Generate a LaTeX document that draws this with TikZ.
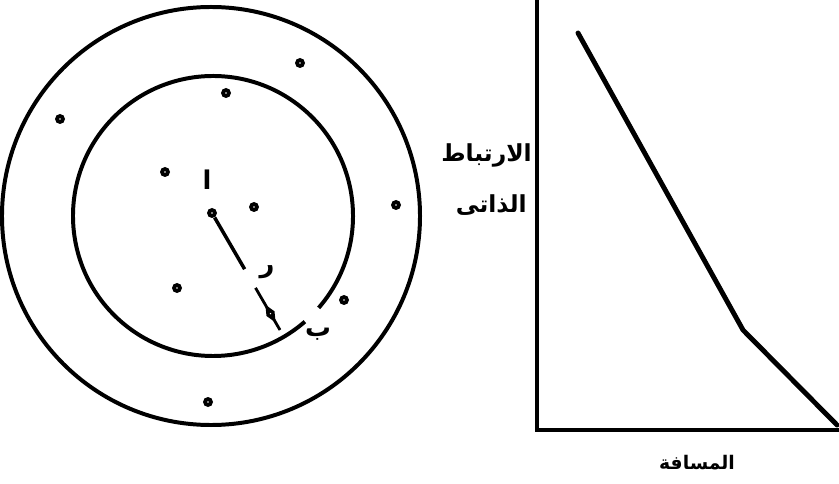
\documentclass[tikz,border=0pt]{standalone}
\usepackage{fontspec}
\newfontfamily\arabicfont[Script=Arabic]{DejaVu Sans}
\TeXXeTstate=1
\usetikzlibrary{calc,shapes.geometric}
\tikzset{
  ring/.style   ={line width=3.4pt},
  grain/.style  ={circle,fill=black,inner sep=0pt,minimum size=0.3cm},
  speck/.style  ={circle,fill=white,inner sep=0pt,minimum size=0.05cm},
  rhomb/.style  ={diamond,draw=black,line width=1.6pt,fill=black,inner sep=0pt,
                  minimum width=0.24cm,minimum height=0.5cm,rotate=30},
  lag/.style    ={line width=3pt},
  axisline/.style={line width=3.2pt},
  corr/.style   ={line width=4.2pt,line join=round,line cap=round},
  arlabel/.style={font=\arabicfont\bfseries\fontsize{20}{24}\selectfont,inner sep=0pt},
  letter/.style ={font=\arabicfont\bfseries\fontsize{22}{26}\selectfont,inner sep=0pt},
}
\begin{document}
\begin{tikzpicture}[x=0.03cm,y=-0.03cm]
  \useasboundingbox (0,0) rectangle (839,484);
  \coordinate (outer) at (211,216);
  \coordinate (inner) at (213,216);
  \draw[ring] (outer) circle[radius=6.27cm];
  \draw[ring] ($(inner)+(-41:4.2cm)$) arc[start angle=-41,end angle=311,radius=4.2cm];
  \node[grain] (a) at (212,213) {};
  \node[speck] at (a) {};
  \coordinate (b) at (280,330);
  \coordinate (g1) at ($(a)!0.48!(b)$);
  \coordinate (g2) at ($(a)!0.64!(b)$);
  \draw[lag] (a) -- (g1);
  \draw[lag,line width=2.4pt] (g2) -- (b);
  \node[rhomb] (m) at ($(a)!0.86!(b)$) {};
  \node[speck] at (m) {};
  \node[letter] (la) at (207,180) {\beginR ا\endR};
  \node[letter] (lr) at (267,272) {\beginR ر\endR};
  \node[letter] (lb) at (318,334) {\beginR ب\endR};
  \foreach \px/\py [count=\i] in {300/63,226/93,60/119,165/172,254/207,396/205,177/288,344/300,208/402}{
    \node[grain] (p\i) at (\px,\py) {};
    \node[speck] at (p\i) {};
  }
  \coordinate (ytop) at (537,0);
  \coordinate (org) at (537,430);
  \coordinate (xend) at (839,430);
  \draw[axisline] (ytop) -- (org) -- (xend);
  \coordinate (c1) at (578,33);
  \coordinate (c2) at (743,330);
  \coordinate (c3) at (837,425);
  \draw[corr] (c1) -- (c2) -- (c3);
  \node[arlabel,anchor=east] (ylab1) at (532,155) {\beginR الارتباط\endR};
  \node[arlabel,anchor=east] (ylab2) at (527,205) {\beginR الذاتى\endR};
  \node[arlabel,font=\arabicfont\bfseries\fontsize{16}{19}\selectfont] (xlab) at (697,463) {\beginR المسافة\endR};
\end{tikzpicture}
\end{document}
